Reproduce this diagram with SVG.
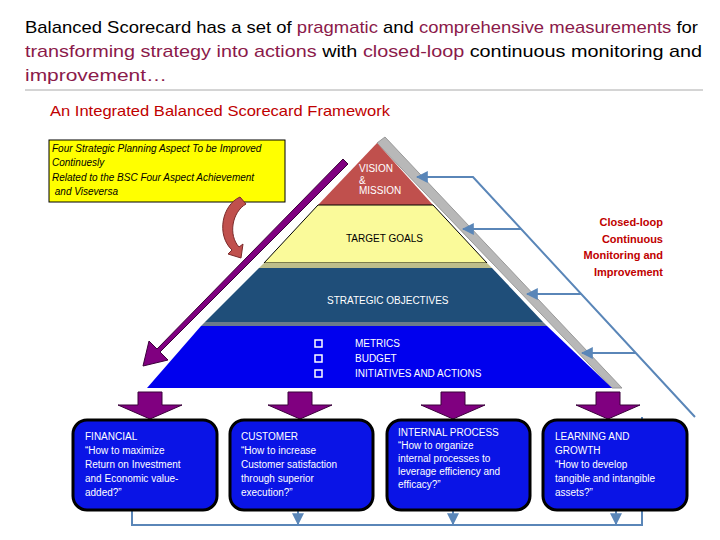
<svg xmlns="http://www.w3.org/2000/svg" width="720" height="540" viewBox="0 0 720 540">
<style>
text{font-family:"Liberation Sans",Arial,sans-serif}
.t{font-size:17px;fill:#000}
.m{fill:#8B1A4A}
.w{fill:#fff;font-size:10px}
.bx{fill:#0a14e6;stroke:#000;stroke-width:3}
.fb{stroke:#5a86b8;stroke-width:2;fill:none}
.pa{fill:#800080;stroke:#3a003a;stroke-width:1}
</style>
<defs>
<marker id="ah" viewBox="0 0 10 10" refX="9" refY="5" markerWidth="6" markerHeight="6" orient="auto"><path d="M0,0L10,5L0,10z" fill="#5a86b8"/></marker>
</defs>
<rect width="720" height="540" fill="#fff"/>
<text class="t" x="25" y="33" textLength="673" lengthAdjust="spacingAndGlyphs">Balanced Scorecard has a set of <tspan class="m">pragmatic</tspan> and <tspan class="m">comprehensive measurements</tspan> for</text>
<text class="t" x="25" y="57" textLength="677" lengthAdjust="spacingAndGlyphs"><tspan class="m">transforming strategy into actions</tspan> with <tspan class="m">closed-loop</tspan>  continuous  monitoring  and</text>
<text class="t m" x="25" y="81" textLength="142" lengthAdjust="spacingAndGlyphs">improvement…</text>
<line x1="25" y1="90" x2="703" y2="90" stroke="#aaa" stroke-width="1"/>
<text x="50" y="116" font-size="15" fill="#c00000" textLength="340" lengthAdjust="spacingAndGlyphs">An Integrated Balanced Scorecard Framework</text>

<g id="pyramid">
<polygon points="385,137 622,388 612,388 377,143" fill="#b8b8b8" stroke="#999"/>
<polygon points="377,143 433,205 318,205" fill="#c0504d"/>
<polygon points="318,205 433,205 487,263 264,263" fill="#fafa9a" stroke="#000" stroke-width="1"/>
<polygon points="264,263 487,263 492,268 259,268" fill="#bdbd8a"/>
<polygon points="259,268 492,268 543,322 205,322" fill="#1f4e79"/>
<polygon points="205,322 543,322 547,326 201,326" fill="#6a7a8a"/>
<polygon points="201,326 547,326 612,388 147,388" fill="#0000ee"/>
<text class="w" x="359" y="172">VISION</text>
<text class="w" x="359" y="184">&amp;</text>
<text class="w" x="359" y="194">MISSION</text>
<text x="346" y="242" font-size="10" fill="#000">TARGET GOALS</text>
<text class="w" x="327" y="304">STRATEGIC OBJECTIVES</text>
<g fill="none" stroke="#fff" stroke-width="1.5">
<rect x="315" y="340" width="7" height="7"/><rect x="315" y="355" width="7" height="7"/><rect x="315" y="370" width="7" height="7"/>
</g>
<text class="w" x="355" y="347">METRICS</text>
<text class="w" x="355" y="362">BUDGET</text>
<text class="w" x="355" y="377">INITIATIVES AND ACTIONS</text>
</g>

<g id="note">
<rect x="49" y="140" width="236" height="62" fill="#ffff00" stroke="#000"/>
<text font-size="10" font-style="italic" fill="#000"><tspan x="52" y="152">Four Strategic Planning Aspect To be Improved</tspan><tspan x="52" y="166">Continuesly</tspan><tspan x="52" y="181">Related to the BSC Four Aspect Achievement</tspan><tspan x="52" y="195"> and  Viseversa</tspan></text>
</g>
<path d="M240,197 C222,205 216,235 232,250 L228,254 L241,258 L243,244 L239,247 C228,235 232,212 246,204 Z" fill="#c0504d" stroke="#7a2a2a"/>

<g id="bigarrow">
<path d="M343,159 L348,164 L160,352 L168,360 L143,366 L149,341 L157,349 Z" fill="#800080" stroke="#3a003a"/>
</g>

<g id="downarrows">
<path class="pa" d="M138,392 h24 v13 h20 l-32,14 l-32,-14 h20 z"/>
<path class="pa" d="M288,392 h24 v13 h20 l-32,14 l-32,-14 h20 z"/>
<path class="pa" d="M441,392 h24 v13 h20 l-32,14 l-32,-14 h20 z"/>
<path class="pa" d="M596,392 h24 v13 h20 l-32,14 l-32,-14 h20 z"/>
</g>

<g id="connectors">
<polyline class="fb" points="695,417 473,177 417,177" marker-end="url(#ah)"/>
<line class="fb" x1="521" y1="229" x2="463" y2="229" marker-end="url(#ah)"/>
<line class="fb" x1="581" y1="294" x2="527" y2="294" marker-end="url(#ah)"/>
<line class="fb" x1="636" y1="353" x2="582" y2="353" marker-end="url(#ah)"/>
<polyline class="fb" points="132,511 132,525 642,525 642,417"/>
<line class="fb" x1="298" y1="511" x2="298" y2="524" marker-end="url(#ah)"/>
<line class="fb" x1="453" y1="511" x2="453" y2="524" marker-end="url(#ah)"/>
<line class="fb" x1="616" y1="511" x2="616" y2="524" marker-end="url(#ah)"/>
</g>

<g id="financial"><rect class="bx" x="73" y="420" width="144" height="90" rx="14"/>
<text class="w" font-size="10"><tspan x="85" y="440">FINANCIAL</tspan><tspan x="85" y="454">“How to maximize</tspan><tspan x="85" y="468">Return on Investment</tspan><tspan x="85" y="482">and Economic value-</tspan><tspan x="85" y="496">added?”</tspan></text></g>
<g id="customer"><rect class="bx" x="230" y="420" width="143" height="90" rx="14"/>
<text class="w"><tspan x="241" y="440">CUSTOMER</tspan><tspan x="241" y="454">“How to increase</tspan><tspan x="241" y="468">Customer satisfaction</tspan><tspan x="241" y="482">through superior</tspan><tspan x="241" y="496">execution?”</tspan></text></g>
<g id="internal"><rect class="bx" x="387" y="420" width="143" height="90" rx="14"/>
<text class="w"><tspan x="398" y="436">INTERNAL PROCESS</tspan><tspan x="398" y="449">“How to organize</tspan><tspan x="398" y="462">internal processes to</tspan><tspan x="398" y="475">leverage efficiency and</tspan><tspan x="398" y="488">efficacy?”</tspan></text></g>
<g id="learning"><rect class="bx" x="543" y="420" width="144" height="90" rx="14"/>
<text class="w" font-size="9.6"><tspan x="555" y="440">LEARNING AND</tspan><tspan x="555" y="454">GROWTH</tspan><tspan x="555" y="468">“How to develop</tspan><tspan x="555" y="482">tangible and intangible</tspan><tspan x="555" y="496">assets?”</tspan></text></g>

<text font-size="11" font-weight="bold" fill="#c00000" text-anchor="end"><tspan x="663" y="226">Closed-loop</tspan><tspan x="663" y="243">Continuous</tspan><tspan x="663" y="259">Monitoring and</tspan><tspan x="663" y="276">Improvement</tspan></text>
</svg>
